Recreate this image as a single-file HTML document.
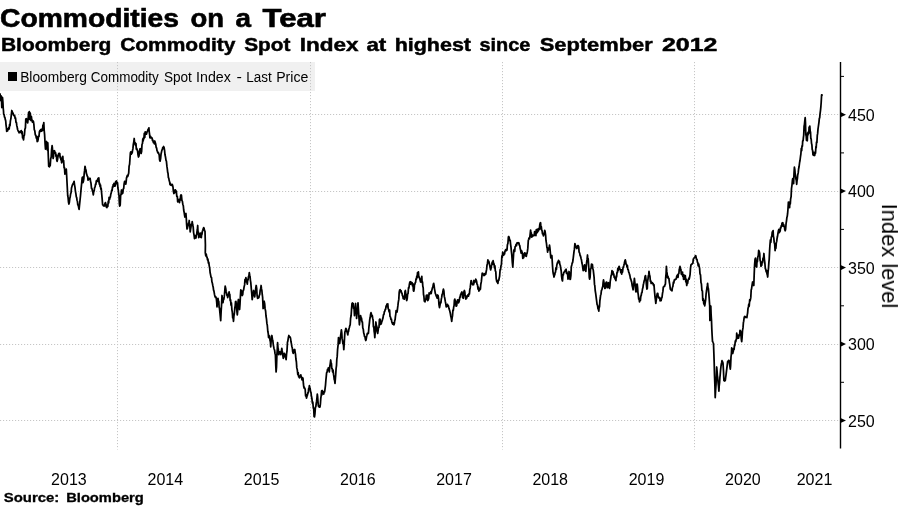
<!DOCTYPE html>
<html><head><meta charset="utf-8"><title>Commodities on a Tear</title>
<style>
html,body{margin:0;padding:0;background:#fff;}
body{width:900px;height:506px;position:relative;overflow:hidden;font-family:"Liberation Sans",sans-serif;color:#000;}
#legend{position:absolute;left:0;top:62px;width:315px;height:28.5px;background:#f0f0f0;}
#sq{position:absolute;left:8px;top:72px;width:9px;height:9px;background:#000;}
.yl{position:absolute;left:848px;font-size:16px;line-height:19px;white-space:pre;}
.xl{position:absolute;top:470px;width:60px;text-align:center;font-size:16px;line-height:19px;white-space:pre;}
#ylab{position:absolute;left:889px;top:256px;font-size:21.9px;line-height:1;white-space:pre;transform:translate(-50%,-50%) rotate(90deg);}
svg{position:absolute;left:0;top:0;}
#wrap{position:absolute;left:0;top:0;width:900px;height:506px;background:#fff;will-change:transform;}
</style></head><body><div id="wrap">
<div id="legend"></div>
<svg width="900" height="506" viewBox="0 0 900 506">
<g stroke="#c6c6c6" stroke-width="1" stroke-dasharray="1.15,1.85" fill="none"><line x1="0" y1="114.5" x2="840.5" y2="114.5"/><line x1="0" y1="191.5" x2="840.5" y2="191.5"/><line x1="0" y1="267.5" x2="840.5" y2="267.5"/><line x1="0" y1="344.5" x2="840.5" y2="344.5"/><line x1="0" y1="420.5" x2="840.5" y2="420.5"/><line x1="117.5" y1="62" x2="117.5" y2="449.5"/><line x1="310.5" y1="62" x2="310.5" y2="449.5"/><line x1="502.5" y1="62" x2="502.5" y2="449.5"/><line x1="694.5" y1="62" x2="694.5" y2="449.5"/></g>
<path d="M0.0,93.3 L0.3,96.7 L0.7,100.5 L1.0,97.8 L1.3,96.0 L1.6,101.6 L1.8,107.5 L2.1,102.2 L2.5,97.5 L2.9,102.0 L3.2,108.0 L3.5,111.0 L3.7,114.3 L4.1,114.7 L4.5,117.2 L4.9,117.3 L5.3,119.6 L5.7,120.7 L6.0,124.6 L6.4,127.7 L6.7,131.4 L7.2,129.0 L7.6,130.8 L8.1,128.7 L8.5,128.5 L8.9,127.3 L9.2,129.0 L9.6,124.5 L10.0,125.7 L10.4,120.9 L10.9,118.6 L11.4,114.0 L11.8,110.5 L12.2,111.6 L12.7,113.4 L13.1,113.1 L13.5,115.0 L13.9,114.8 L14.3,116.0 L14.7,115.7 L15.1,118.4 L15.5,117.9 L16.0,122.3 L16.4,122.4 L16.8,125.7 L17.1,126.7 L17.5,129.1 L17.8,130.0 L18.3,131.2 L18.7,131.8 L19.2,132.8 L19.6,131.7 L20.0,132.2 L20.5,131.1 L20.9,132.1 L21.3,130.7 L21.7,133.6 L22.2,131.8 L22.6,137.9 L23.1,137.5 L23.5,139.9 L24.0,135.6 L24.4,135.3 L24.9,129.2 L25.4,127.9 L25.8,119.1 L26.3,118.6 L26.8,119.5 L27.2,121.6 L27.7,122.8 L28.1,119.1 L28.6,112.5 L29.0,112.8 L29.3,111.6 L29.6,115.6 L29.8,119.5 L30.1,118.0 L30.3,113.2 L30.6,117.7 L30.9,120.5 L31.1,119.1 L31.4,116.5 L31.7,119.3 L32.0,120.7 L32.5,122.2 L32.9,120.9 L33.4,121.4 L33.9,124.6 L34.3,129.7 L34.8,130.8 L35.3,134.9 L35.8,135.2 L36.3,138.2 L36.7,136.7 L37.2,141.6 L37.7,141.3 L38.1,139.6 L38.5,136.1 L39.0,136.5 L39.4,131.7 L39.8,130.7 L40.2,130.2 L40.7,131.4 L41.1,129.3 L41.6,131.2 L42.0,129.2 L42.5,130.5 L42.9,125.2 L43.3,125.6 L43.8,122.6 L44.2,130.6 L44.6,134.7 L45.1,143.9 L45.5,149.2 L45.9,146.8 L46.2,143.9 L46.6,141.5 L47.0,145.3 L47.3,150.0 L47.5,144.5 L47.8,142.8 L48.2,153.7 L48.7,166.3 L49.1,165.3 L49.5,166.8 L49.8,163.3 L50.2,165.6 L50.7,158.8 L51.2,157.0 L51.6,149.9 L52.1,145.7 L52.4,147.9 L52.8,154.9 L53.1,158.5 L53.5,156.8 L53.8,151.4 L54.2,150.7 L54.7,151.2 L55.1,153.2 L55.6,152.8 L56.0,156.5 L56.4,155.2 L56.7,159.8 L57.1,161.3 L57.6,159.2 L58.0,156.1 L58.5,154.2 L58.9,153.4 L59.3,155.6 L59.8,153.5 L60.2,157.8 L60.6,157.0 L60.9,159.9 L61.3,158.4 L61.6,162.8 L62.0,160.6 L62.4,160.5 L62.8,156.4 L63.2,161.9 L63.6,160.5 L64.1,167.9 L64.5,167.7 L64.9,174.1 L65.4,172.3 L65.8,171.0 L66.3,169.2 L66.8,178.2 L67.2,185.7 L67.7,195.5 L68.1,197.6 L68.5,202.1 L68.9,204.0 L69.3,202.6 L69.8,198.3 L70.2,197.0 L70.6,194.0 L71.1,192.5 L71.5,188.0 L72.0,186.2 L72.4,184.9 L72.8,184.4 L73.3,183.1 L73.7,182.8 L74.1,181.3 L74.5,184.6 L75.0,187.3 L75.4,191.1 L75.9,193.8 L76.3,196.9 L76.7,197.7 L77.0,200.2 L77.4,201.2 L77.8,204.9 L78.2,205.0 L78.7,207.7 L79.1,209.4 L79.5,205.2 L80.0,200.4 L80.4,196.7 L80.9,191.1 L81.3,186.9 L81.8,181.9 L82.2,177.7 L82.6,177.1 L83.0,182.6 L83.4,181.3 L83.8,178.6 L84.2,173.6 L84.6,170.4 L85.0,166.3 L85.5,168.7 L86.0,170.2 L86.4,173.4 L86.9,174.9 L87.3,176.2 L87.7,176.6 L88.0,180.1 L88.4,179.1 L88.8,179.2 L89.2,178.3 L89.7,178.7 L90.1,178.4 L90.5,181.1 L91.0,183.3 L91.5,188.3 L91.9,188.4 L92.4,190.9 L92.8,191.9 L93.3,194.8 L93.7,191.8 L94.2,190.6 L94.6,187.7 L95.1,186.9 L95.5,184.1 L95.9,184.3 L96.3,180.8 L96.8,181.5 L97.2,180.0 L97.6,179.9 L98.0,178.4 L98.4,181.7 L98.8,177.9 L99.3,184.2 L99.7,183.4 L100.1,186.6 L100.5,185.0 L100.8,189.2 L101.2,188.4 L101.7,194.0 L102.1,198.1 L102.6,204.7 L103.1,205.0 L103.5,205.8 L104.0,206.1 L104.5,205.7 L104.9,203.6 L105.4,202.6 L105.8,203.8 L106.2,206.8 L106.5,205.2 L106.9,207.6 L107.4,205.0 L107.8,206.3 L108.3,201.2 L108.7,203.0 L109.1,197.4 L109.6,199.2 L110.0,197.5 L110.4,196.9 L110.8,194.1 L111.2,193.2 L111.7,190.2 L112.1,190.6 L112.5,186.9 L112.9,187.1 L113.2,184.7 L113.6,185.0 L114.0,183.4 L114.3,185.6 L114.7,186.2 L115.2,185.8 L115.6,181.9 L116.1,181.3 L116.6,181.0 L117.0,183.8 L117.5,182.7 L117.9,188.0 L118.3,190.2 L118.7,194.0 L119.0,195.4 L119.4,203.9 L119.7,206.1 L120.2,205.1 L120.6,195.9 L121.1,194.0 L121.5,190.0 L121.9,194.0 L122.4,190.7 L122.8,193.1 L123.2,189.1 L123.7,188.5 L124.1,183.8 L124.6,181.3 L125.0,181.6 L125.4,183.6 L125.8,184.1 L126.1,182.1 L126.5,178.1 L126.8,177.0 L127.3,175.4 L127.7,176.6 L128.2,174.9 L128.7,173.1 L129.1,166.1 L129.6,164.2 L130.0,158.2 L130.4,152.8 L130.8,151.8 L131.3,154.2 L131.8,152.6 L132.2,152.8 L132.6,149.9 L132.9,148.9 L133.3,144.5 L133.8,141.8 L134.2,138.5 L134.7,143.9 L135.1,142.7 L135.6,145.6 L136.0,143.7 L136.3,149.2 L136.7,148.3 L137.1,149.9 L137.6,151.1 L138.0,154.7 L138.5,157.0 L139.0,155.8 L139.4,151.6 L139.9,149.1 L140.3,148.6 L140.7,152.1 L141.1,153.4 L141.6,151.6 L142.0,144.5 L142.5,143.4 L142.8,138.9 L143.2,140.8 L143.5,137.8 L143.9,138.6 L144.3,133.4 L144.8,137.5 L145.2,131.9 L145.6,134.2 L146.1,132.4 L146.5,134.1 L147.0,132.1 L147.5,131.0 L147.9,129.8 L148.4,128.9 L148.9,127.8 L149.2,131.7 L149.6,134.3 L149.9,137.8 L150.3,136.0 L150.8,137.8 L151.2,137.3 L151.6,137.8 L152.1,138.0 L152.5,140.5 L152.9,140.1 L153.4,142.7 L153.9,142.1 L154.4,143.8 L154.8,141.0 L155.3,142.7 L155.7,144.1 L156.2,147.7 L156.6,147.8 L157.0,150.6 L157.4,151.3 L157.8,152.8 L158.3,152.5 L158.7,153.4 L159.2,155.0 L159.6,160.0 L160.1,161.2 L160.6,158.7 L161.0,154.3 L161.5,152.0 L161.9,150.1 L162.3,149.9 L162.7,147.7 L163.2,148.3 L163.6,146.5 L164.1,147.7 L164.6,150.7 L165.0,154.8 L165.5,157.0 L166.0,160.4 L166.4,161.2 L166.9,166.2 L167.3,168.8 L167.7,172.4 L168.0,173.1 L168.4,177.6 L168.8,178.3 L169.2,180.6 L169.6,181.7 L170.0,184.7 L170.3,183.2 L170.7,185.0 L171.1,184.8 L171.6,185.4 L172.1,184.4 L172.5,185.0 L173.0,187.1 L173.4,191.3 L173.9,193.5 L174.3,193.0 L174.7,190.1 L175.0,191.6 L175.4,189.9 L175.9,192.7 L176.3,191.2 L176.8,196.3 L177.3,196.4 L177.7,201.9 L178.2,201.3 L178.6,201.3 L179.1,199.3 L179.5,202.7 L179.9,199.2 L180.3,199.9 L180.6,195.8 L181.0,194.9 L181.4,195.2 L181.9,200.3 L182.4,201.3 L182.8,204.2 L183.3,205.7 L183.7,210.0 L184.2,212.7 L184.6,215.3 L184.9,217.0 L185.2,216.5 L185.6,213.8 L185.9,213.4 L186.3,218.5 L186.6,224.1 L187.0,229.0 L187.4,228.4 L187.8,226.2 L188.2,224.8 L188.5,223.1 L188.9,223.1 L189.2,220.5 L189.5,224.7 L189.9,227.0 L190.2,231.9 L190.6,229.2 L190.9,227.7 L191.3,224.1 L191.8,225.3 L192.2,221.6 L192.7,224.8 L193.2,227.1 L193.6,232.6 L194.1,235.4 L194.5,238.6 L194.8,235.5 L195.2,237.0 L195.6,236.9 L196.0,238.0 L196.3,235.0 L196.7,234.7 L197.0,231.6 L197.4,229.2 L197.7,225.5 L198.0,232.4 L198.4,232.0 L198.7,237.6 L199.2,235.6 L199.6,236.0 L200.1,233.3 L200.5,237.1 L200.9,233.2 L201.3,237.6 L201.7,233.6 L202.0,234.2 L202.4,231.2 L202.8,230.3 L203.3,228.6 L203.7,227.6 L204.1,228.4 L204.6,230.9 L205.0,231.2 L205.4,244.7 L205.3,252.8 L205.8,255.8 L206.2,254.0 L206.7,257.1 L207.1,257.1 L207.5,260.0 L207.9,259.0 L208.4,263.1 L208.8,262.3 L209.2,265.6 L209.7,268.1 L210.1,272.5 L210.6,274.9 L211.0,277.2 L211.5,277.5 L211.9,281.8 L212.4,283.3 L212.8,285.5 L213.2,287.2 L213.6,290.3 L214.1,291.8 L214.5,294.4 L214.9,296.2 L215.4,297.3 L215.8,296.9 L216.3,298.3 L216.7,302.2 L217.0,306.9 L217.3,303.3 L217.7,302.9 L218.0,298.3 L218.4,300.9 L218.8,301.5 L219.1,307.1 L219.5,308.3 L219.9,312.4 L220.3,316.3 L220.7,320.6 L221.1,311.9 L221.6,303.9 L222.0,295.5 L222.3,298.1 L222.7,300.0 L223.0,302.6 L223.4,299.1 L223.8,299.3 L224.2,296.9 L224.5,294.4 L224.9,289.3 L225.2,286.2 L225.7,288.4 L226.1,291.4 L226.6,293.3 L227.0,295.5 L227.3,294.6 L227.7,297.6 L228.2,295.7 L228.6,294.5 L229.1,291.9 L229.5,294.8 L229.8,294.4 L230.2,300.8 L230.6,299.7 L231.0,305.1 L231.4,302.9 L231.9,309.8 L232.3,312.0 L232.7,317.9 L233.1,316.7 L233.5,321.3 L233.9,316.0 L234.4,313.2 L234.8,308.0 L235.2,306.0 L235.5,301.7 L235.9,301.4 L236.4,305.0 L236.8,310.4 L237.3,314.9 L237.7,310.6 L238.0,302.4 L238.4,299.5 L238.8,301.5 L239.2,307.5 L239.6,309.5 L240.0,304.3 L240.4,296.2 L240.8,289.8 L241.3,290.9 L241.7,293.9 L242.2,295.5 L242.7,294.6 L243.1,290.5 L243.6,290.1 L244.1,286.9 L244.6,284.9 L245.0,279.3 L245.4,282.0 L245.9,277.7 L246.4,280.1 L246.8,281.8 L247.3,284.1 L247.7,279.5 L248.1,279.9 L248.5,276.5 L248.9,275.9 L249.3,272.7 L249.7,275.2 L250.1,276.8 L250.4,280.3 L250.8,282.7 L251.3,288.7 L251.7,293.0 L252.2,299.7 L252.7,295.8 L253.1,293.6 L253.6,290.5 L254.0,293.8 L254.3,294.0 L254.7,296.9 L255.1,293.7 L255.4,291.3 L255.8,287.9 L256.2,285.5 L256.7,288.7 L257.1,295.7 L257.6,298.3 L258.0,298.2 L258.4,296.9 L258.9,297.6 L259.3,295.1 L259.7,294.8 L260.2,290.2 L260.6,289.1 L261.1,285.5 L261.5,288.9 L261.9,290.7 L262.2,294.2 L262.6,297.0 L262.9,303.0 L263.1,308.5 L263.5,307.7 L263.8,301.7 L264.2,301.3 L264.7,304.0 L265.1,308.9 L265.6,311.0 L266.0,316.0 L266.5,319.1 L266.9,323.4 L267.3,325.2 L267.8,331.3 L268.2,333.2 L268.6,337.7 L269.0,335.3 L269.3,336.8 L269.7,336.3 L270.0,340.5 L270.4,341.6 L270.7,346.9 L271.1,341.3 L271.5,340.3 L271.9,335.5 L272.4,339.2 L272.8,340.4 L273.3,344.8 L273.7,346.8 L274.1,349.0 L274.6,350.2 L275.0,353.4 L275.4,354.7 L275.8,366.0 L276.1,372.0 L276.5,367.2 L276.9,354.6 L277.2,351.1 L277.6,342.7 L278.0,348.4 L278.3,349.0 L278.7,354.7 L279.0,353.7 L279.4,352.8 L279.7,351.9 L280.1,353.2 L280.4,352.6 L280.8,354.7 L281.1,351.6 L281.5,350.5 L281.8,348.3 L282.2,351.0 L282.6,353.0 L282.9,355.9 L283.3,358.3 L283.6,357.7 L284.0,354.0 L284.3,353.3 L284.8,354.4 L285.2,356.6 L285.7,357.2 L286.1,359.7 L286.6,353.6 L287.0,350.8 L287.5,341.9 L287.8,341.4 L288.2,338.6 L288.5,337.0 L288.9,335.5 L289.3,337.2 L289.7,336.8 L290.1,337.0 L290.5,338.0 L291.0,341.8 L291.4,343.6 L291.8,346.2 L292.3,348.0 L292.7,351.7 L293.2,353.3 L293.6,352.4 L294.0,349.8 L294.4,350.7 L294.8,349.5 L295.2,352.8 L295.5,354.1 L295.9,359.0 L296.4,362.0 L296.8,367.9 L297.3,369.9 L297.8,374.6 L298.2,372.6 L298.7,376.8 L299.1,377.0 L299.5,377.8 L300.0,375.8 L300.4,376.0 L300.8,374.9 L301.2,376.6 L301.6,377.9 L302.0,379.9 L302.4,378.5 L302.7,377.7 L303.0,378.6 L303.4,383.7 L303.7,386.3 L304.1,388.1 L304.4,387.6 L304.8,388.4 L305.2,389.5 L305.6,396.0 L306.1,394.8 L306.5,398.1 L307.0,396.1 L307.4,395.1 L307.9,392.7 L308.3,392.8 L308.6,388.9 L309.0,388.4 L309.4,385.6 L309.8,388.5 L310.1,388.2 L310.5,391.3 L311.0,392.6 L311.4,396.3 L311.9,398.4 L312.4,403.1 L312.8,402.0 L313.3,408.3 L313.7,408.2 L314.1,416.6 L314.5,416.9 L314.9,414.2 L315.4,407.2 L315.8,406.9 L316.2,403.6 L316.6,401.2 L317.0,397.6 L317.3,394.1 L317.6,396.4 L318.0,401.7 L318.3,405.5 L318.7,406.7 L319.1,405.9 L319.6,407.1 L320.0,406.9 L320.4,404.0 L320.8,398.3 L321.2,395.5 L321.6,391.0 L321.9,394.9 L322.3,390.5 L322.8,391.7 L323.2,392.4 L323.7,394.1 L324.2,391.7 L324.6,392.0 L325.1,388.4 L325.5,385.1 L325.9,380.0 L326.2,377.1 L326.6,372.8 L327.0,372.3 L327.5,369.5 L327.9,370.5 L328.3,367.8 L328.6,369.2 L329.0,369.3 L329.3,372.0 L329.8,366.1 L330.2,364.1 L330.7,360.0 L331.1,363.3 L331.4,363.3 L331.8,368.5 L332.2,368.6 L332.6,372.0 L333.1,370.1 L333.5,374.2 L333.9,376.5 L334.2,379.5 L334.6,380.5 L335.0,383.4 L335.4,378.4 L335.7,374.8 L336.1,368.5 L336.5,365.7 L336.8,359.5 L337.2,356.4 L337.6,349.3 L338.1,344.9 L338.5,337.6 L338.9,340.6 L339.3,340.6 L339.7,343.3 L340.1,339.6 L340.5,336.6 L341.0,333.0 L341.4,329.8 L341.8,333.2 L342.1,338.4 L342.5,340.5 L342.9,343.6 L343.4,343.6 L343.8,349.7 L344.2,343.6 L344.5,338.5 L344.9,331.9 L345.2,331.3 L345.6,329.3 L345.9,328.4 L346.4,329.2 L346.9,331.7 L347.3,332.8 L347.8,334.8 L348.2,331.4 L348.5,331.7 L348.9,329.1 L349.3,327.8 L349.8,325.6 L350.2,324.8 L350.6,318.2 L351.1,315.8 L351.6,308.2 L352.0,303.5 L352.4,303.0 L352.8,304.4 L353.2,303.5 L353.6,308.5 L354.1,308.6 L354.5,315.6 L354.9,310.2 L355.2,307.6 L355.6,303.5 L355.9,311.5 L356.3,310.4 L356.6,318.4 L357.1,311.9 L357.5,308.4 L358.0,302.8 L358.5,310.5 L358.9,316.4 L359.4,324.8 L359.8,321.1 L360.2,319.6 L360.6,315.6 L361.1,317.9 L361.5,318.0 L362.0,322.0 L362.4,321.9 L362.8,328.0 L363.3,329.3 L363.7,333.0 L364.1,334.1 L364.5,336.4 L365.0,336.9 L365.4,339.4 L365.8,340.5 L366.2,339.2 L366.6,336.4 L366.9,335.4 L367.3,333.4 L367.7,333.8 L368.0,333.3 L368.4,333.4 L368.9,327.2 L369.3,323.9 L369.8,319.1 L370.2,317.5 L370.6,314.2 L371.0,312.7 L371.4,314.0 L371.9,316.7 L372.3,315.6 L372.7,318.4 L373.1,320.0 L373.4,326.7 L373.8,326.3 L374.1,331.0 L374.5,333.6 L374.8,337.6 L375.2,332.1 L375.5,329.9 L375.9,322.0 L376.3,325.4 L376.8,326.2 L377.2,331.7 L377.7,333.4 L378.1,330.6 L378.5,327.7 L379.0,327.5 L379.4,319.7 L379.8,319.1 L380.2,319.7 L380.5,324.5 L380.9,324.1 L381.3,323.6 L381.8,321.5 L382.2,320.8 L382.6,319.1 L383.0,317.9 L383.5,314.6 L383.9,314.6 L384.4,311.5 L384.8,311.3 L385.2,309.4 L385.6,309.3 L386.1,305.9 L386.5,306.7 L386.9,304.2 L387.3,306.0 L387.8,303.9 L388.2,308.7 L388.6,309.2 L389.1,311.8 L389.6,310.1 L390.0,316.5 L390.5,317.0 L390.9,319.3 L391.4,319.1 L391.8,322.0 L392.2,322.7 L392.6,324.0 L393.1,322.8 L393.6,324.5 L394.0,324.8 L394.4,323.3 L394.7,320.5 L395.1,319.8 L395.4,316.6 L395.8,314.1 L396.1,310.6 L396.4,311.4 L396.8,311.4 L397.1,312.0 L397.5,308.6 L397.9,305.7 L398.3,302.1 L398.8,299.4 L399.2,292.3 L399.7,290.0 L400.2,289.7 L400.6,291.7 L401.1,290.7 L401.5,293.0 L402.0,293.1 L402.4,295.5 L402.8,295.7 L403.2,298.6 L403.6,296.9 L403.9,298.4 L404.3,299.2 L404.7,296.6 L405.0,291.4 L405.4,290.5 L405.8,293.8 L406.3,298.1 L406.7,300.5 L407.2,298.7 L407.6,294.2 L408.1,293.4 L408.5,287.7 L408.9,288.1 L409.3,285.0 L409.7,282.7 L410.2,281.7 L410.7,284.2 L411.1,282.2 L411.6,283.7 L412.1,282.7 L412.5,285.8 L413.0,283.9 L413.4,290.5 L413.8,291.2 L414.2,288.9 L414.5,284.6 L414.9,284.1 L415.3,282.5 L415.6,282.3 L416.0,278.8 L416.4,279.1 L416.8,276.2 L417.1,277.8 L417.5,272.7 L417.9,275.1 L418.4,271.9 L418.8,277.1 L419.2,277.0 L419.7,278.7 L420.1,280.1 L420.6,282.0 L421.0,278.9 L421.4,279.7 L421.8,276.3 L422.1,282.6 L422.5,281.9 L422.8,286.3 L423.2,287.8 L423.5,294.3 L423.9,296.2 L424.3,301.1 L424.6,299.5 L425.0,301.9 L425.4,299.2 L425.9,299.6 L426.3,295.5 L426.8,297.2 L427.2,295.0 L427.7,300.7 L428.2,299.8 L428.7,298.3 L429.1,293.0 L429.6,294.1 L430.0,292.9 L430.4,293.2 L430.8,291.6 L431.2,293.5 L431.6,291.2 L432.0,289.6 L432.4,287.9 L432.9,286.9 L433.3,284.4 L433.7,283.4 L434.1,285.5 L434.5,288.8 L434.9,290.9 L435.3,293.4 L435.8,294.5 L436.2,295.9 L436.7,296.9 L437.2,298.2 L437.6,295.0 L438.1,295.5 L438.6,299.2 L439.0,304.9 L439.5,307.6 L439.9,305.6 L440.4,302.1 L440.9,302.8 L441.3,299.1 L441.7,297.4 L442.1,294.4 L442.6,293.9 L443.0,290.9 L443.4,289.1 L443.9,291.0 L444.3,296.4 L444.8,298.3 L445.3,301.4 L445.7,303.3 L446.2,306.9 L446.6,306.4 L447.0,306.3 L447.5,304.4 L447.9,305.5 L448.4,305.8 L448.9,308.3 L449.3,309.4 L449.8,311.1 L450.3,313.2 L450.8,316.3 L451.2,317.8 L451.7,321.3 L452.1,317.9 L452.5,315.9 L452.9,310.1 L453.3,310.4 L453.7,307.0 L454.1,305.6 L454.4,300.2 L454.8,299.1 L455.3,301.1 L455.7,304.0 L456.2,306.2 L456.7,305.6 L457.1,301.6 L457.6,299.8 L458.1,299.8 L458.5,302.8 L459.0,301.9 L459.4,300.2 L459.8,297.1 L460.1,297.3 L460.5,294.8 L461.0,294.1 L461.4,292.8 L461.9,291.9 L462.3,293.6 L462.6,297.8 L463.0,297.6 L463.5,298.2 L463.9,291.8 L464.4,290.5 L464.8,291.9 L465.1,295.5 L465.5,295.5 L465.9,299.1 L466.3,297.7 L466.8,297.9 L467.2,296.1 L467.6,295.5 L468.1,294.7 L468.5,296.2 L468.9,293.8 L469.4,294.1 L469.8,289.4 L470.2,287.9 L470.7,283.5 L471.1,280.6 L471.5,281.1 L472.0,283.8 L472.4,283.6 L472.8,284.8 L473.2,283.6 L473.6,284.7 L473.9,280.5 L474.3,282.7 L474.8,282.0 L475.2,281.7 L475.7,279.2 L476.1,279.9 L476.6,281.3 L477.0,284.2 L477.5,284.8 L478.0,289.2 L478.4,287.1 L478.9,291.2 L479.3,288.5 L479.6,290.2 L480.0,289.2 L480.4,289.1 L480.8,284.2 L481.3,281.9 L481.8,277.1 L482.2,273.4 L482.6,273.2 L483.0,274.6 L483.5,274.3 L483.9,275.6 L484.3,274.0 L484.8,275.0 L485.2,273.4 L485.7,274.3 L486.1,272.0 L486.6,269.4 L487.0,265.2 L487.4,263.7 L487.9,259.9 L488.4,262.0 L488.8,261.2 L489.3,263.5 L489.7,265.3 L490.2,267.8 L490.6,269.9 L491.0,268.5 L491.4,266.0 L491.8,264.7 L492.2,262.1 L492.7,264.2 L493.1,260.7 L493.6,263.5 L494.0,263.7 L494.5,267.9 L494.9,265.8 L495.3,270.6 L495.8,271.8 L496.2,278.6 L496.7,281.3 L497.1,282.0 L497.5,282.3 L497.9,283.4 L498.3,280.2 L498.8,280.3 L499.2,278.0 L499.6,276.3 L500.1,269.7 L500.5,269.8 L501.0,265.6 L501.4,264.9 L501.9,255.9 L502.3,257.3 L502.7,252.1 L503.1,253.3 L503.4,253.5 L503.8,255.0 L504.2,253.6 L504.6,253.8 L504.9,251.6 L505.3,250.7 L505.7,249.6 L506.1,250.8 L506.6,249.4 L507.0,250.0 L507.4,244.8 L507.9,243.5 L508.4,236.9 L508.8,236.5 L509.2,237.7 L509.7,240.7 L510.2,240.3 L510.6,244.3 L511.0,247.1 L511.4,251.6 L511.8,255.0 L512.3,262.1 L512.8,267.1 L513.1,262.3 L513.5,255.4 L513.8,250.7 L514.2,249.5 L514.7,251.3 L515.1,246.7 L515.6,246.4 L516.1,244.3 L516.5,245.6 L517.0,242.9 L517.5,243.0 L518.0,242.6 L518.4,243.5 L518.9,242.9 L519.3,245.0 L519.8,245.8 L520.2,248.6 L520.6,250.0 L521.1,253.1 L521.5,250.6 L522.0,252.1 L522.4,253.6 L522.8,258.4 L523.2,257.8 L523.7,257.7 L524.1,253.9 L524.6,252.8 L525.0,253.2 L525.5,255.8 L525.9,253.5 L526.3,256.4 L526.7,253.8 L527.0,253.6 L527.4,251.4 L527.8,248.4 L528.3,240.5 L528.7,239.3 L529.1,237.8 L529.5,238.8 L529.9,236.5 L530.2,233.9 L530.6,230.1 L530.9,233.2 L531.3,232.8 L531.6,237.2 L532.0,234.6 L532.4,236.7 L532.9,235.5 L533.3,235.6 L533.7,235.1 L534.2,235.5 L534.6,231.7 L535.0,234.1 L535.5,233.6 L535.9,235.6 L536.2,229.8 L536.6,233.4 L537.0,229.4 L537.5,232.2 L537.9,229.2 L538.4,230.8 L538.9,228.5 L539.3,229.5 L539.8,224.7 L540.2,223.0 L540.6,222.7 L541.0,229.1 L541.3,226.5 L541.7,230.1 L542.1,230.8 L542.5,233.8 L543.0,233.5 L543.4,235.8 L543.8,234.2 L544.2,234.3 L544.7,230.4 L545.1,231.5 L545.6,235.1 L546.0,240.7 L546.5,243.6 L546.9,247.5 L547.2,248.0 L547.6,252.1 L548.0,248.0 L548.4,250.0 L548.8,248.6 L549.1,248.6 L549.5,245.1 L549.8,247.2 L550.1,249.9 L550.5,254.6 L550.8,257.8 L551.2,257.1 L551.5,255.6 L551.9,255.7 L552.2,260.5 L552.6,267.1 L552.9,271.3 L553.3,273.8 L553.6,274.9 L554.0,277.0 L554.4,275.3 L554.8,274.7 L555.1,272.6 L555.5,272.1 L555.9,267.8 L556.4,269.3 L556.8,265.2 L557.2,263.5 L557.7,262.0 L558.1,262.8 L558.5,260.3 L559.0,261.4 L559.4,261.3 L559.9,264.8 L560.3,265.3 L560.7,267.8 L561.2,271.0 L561.6,276.4 L562.1,279.9 L562.5,280.9 L562.9,274.7 L563.3,275.0 L563.7,272.8 L564.1,272.2 L564.5,271.3 L564.9,271.4 L565.3,270.0 L565.7,269.9 L566.1,269.2 L566.5,273.3 L566.9,272.1 L567.3,274.2 L567.6,274.0 L568.0,279.1 L568.3,277.7 L568.6,277.5 L569.0,271.5 L569.3,272.8 L569.7,273.4 L570.0,279.4 L570.4,279.2 L570.9,275.3 L571.3,266.7 L571.8,264.9 L572.2,263.0 L572.6,262.7 L573.0,260.0 L573.5,255.9 L574.0,251.7 L574.4,249.2 L574.9,243.6 L575.4,245.3 L575.8,246.0 L576.3,247.7 L576.8,248.6 L577.3,247.7 L577.7,245.6 L578.2,245.7 L578.7,246.8 L579.1,252.1 L579.6,252.9 L580.1,255.7 L580.5,256.0 L581.0,258.3 L581.5,260.0 L581.9,263.0 L582.4,264.9 L582.8,268.2 L583.2,270.6 L583.7,270.2 L584.1,266.5 L584.6,264.9 L585.0,267.0 L585.4,269.9 L585.8,271.3 L586.2,267.2 L586.6,262.7 L587.1,259.2 L587.5,255.0 L587.9,261.3 L588.2,258.7 L588.6,265.0 L588.9,269.4 L589.3,277.5 L589.6,279.2 L590.1,277.2 L590.5,269.1 L591.0,268.5 L591.5,264.2 L591.9,266.0 L592.4,264.5 L592.8,268.2 L593.3,270.4 L593.7,273.8 L594.1,277.4 L594.5,284.4 L594.8,285.5 L595.2,290.5 L595.7,293.7 L596.2,297.6 L596.6,300.6 L597.1,304.7 L597.5,305.1 L598.0,308.8 L598.4,309.1 L598.8,311.1 L599.2,306.3 L599.5,307.0 L599.9,300.5 L600.3,298.0 L600.6,295.2 L601.0,294.2 L601.4,290.5 L601.9,289.8 L602.3,287.7 L602.8,286.3 L603.1,282.6 L603.5,279.9 L604.0,282.6 L604.4,286.6 L604.9,288.4 L605.4,288.1 L605.8,283.3 L606.3,282.0 L606.7,282.0 L607.1,286.6 L607.5,287.7 L607.8,287.5 L608.2,283.5 L608.5,282.7 L608.8,283.8 L609.2,287.1 L609.5,288.4 L609.9,285.9 L610.2,281.4 L610.6,279.1 L611.1,275.5 L611.5,274.9 L612.0,270.6 L612.5,272.8 L612.9,271.5 L613.4,274.9 L613.8,274.0 L614.2,277.4 L614.6,277.1 L615.1,278.9 L615.5,278.9 L615.9,280.6 L616.3,275.8 L616.6,276.8 L617.0,272.3 L617.4,272.7 L617.8,268.5 L618.2,270.7 L618.7,267.5 L619.1,266.3 L619.5,267.6 L620.0,269.5 L620.4,269.7 L620.8,272.7 L621.3,269.9 L621.7,274.2 L622.1,269.6 L622.5,272.2 L623.0,267.8 L623.4,267.0 L623.9,265.2 L624.3,263.5 L624.8,261.1 L625.3,259.9 L625.7,261.5 L626.1,264.4 L626.6,264.4 L627.0,267.0 L627.4,265.5 L627.8,269.5 L628.3,269.8 L628.7,272.2 L629.1,272.7 L629.5,274.4 L629.9,275.6 L630.4,278.7 L630.8,279.0 L631.2,280.6 L631.7,282.1 L632.2,285.8 L632.6,287.3 L633.1,289.8 L633.5,285.0 L634.0,282.6 L634.4,278.4 L634.8,282.1 L635.1,284.5 L635.5,289.2 L635.9,291.9 L636.3,291.4 L636.8,284.3 L637.2,284.1 L637.6,287.6 L637.9,292.3 L638.3,294.8 L638.7,299.1 L639.1,298.2 L639.5,301.9 L639.9,298.7 L640.4,300.4 L640.8,296.2 L641.2,295.5 L641.6,292.9 L642.0,292.7 L642.5,289.0 L642.9,287.8 L643.3,284.8 L643.7,283.2 L644.2,280.6 L644.6,279.9 L645.1,276.3 L645.5,275.6 L646.0,279.6 L646.4,284.6 L646.9,289.1 L647.3,288.4 L647.6,281.0 L648.0,279.1 L648.3,276.0 L648.7,274.7 L649.0,271.3 L649.5,275.2 L649.9,275.9 L650.4,281.3 L650.8,280.9 L651.1,283.5 L651.5,282.2 L651.9,282.7 L652.3,282.6 L652.7,283.7 L653.2,283.6 L653.6,285.6 L654.0,284.8 L654.4,290.1 L654.7,293.3 L655.1,297.6 L655.5,300.3 L655.8,303.3 L656.2,300.4 L656.5,298.6 L656.9,295.3 L657.3,293.4 L657.8,293.4 L658.2,296.6 L658.7,297.6 L659.2,298.4 L659.7,297.5 L660.1,300.9 L660.6,299.9 L661.1,300.5 L661.6,298.1 L662.0,297.5 L662.5,293.4 L662.9,291.4 L663.3,287.1 L663.7,287.0 L664.1,286.1 L664.5,286.4 L665.0,284.8 L665.4,284.1 L665.7,277.7 L666.1,273.7 L666.4,266.3 L666.8,271.9 L667.1,273.1 L667.5,277.7 L668.0,276.3 L668.4,278.3 L668.9,278.4 L669.4,282.6 L669.8,284.7 L670.3,289.1 L670.7,289.2 L671.1,290.3 L671.5,290.5 L672.0,290.8 L672.4,287.5 L672.9,286.3 L673.4,282.1 L673.8,283.0 L674.3,279.9 L674.7,279.9 L675.1,279.3 L675.6,279.5 L676.0,279.1 L676.4,278.1 L676.8,276.0 L677.1,276.1 L677.5,274.9 L678.0,277.4 L678.4,273.9 L678.9,273.4 L679.3,269.0 L679.6,270.2 L680.0,266.3 L680.4,269.1 L680.9,269.2 L681.3,274.1 L681.7,272.7 L682.1,274.8 L682.5,272.1 L682.8,276.4 L683.2,274.9 L683.6,279.3 L683.9,274.9 L684.3,279.1 L684.6,277.2 L685.0,278.0 L685.3,275.6 L685.8,281.9 L686.2,279.2 L686.7,285.5 L687.2,282.3 L687.6,283.4 L688.1,279.9 L688.5,279.6 L688.9,278.1 L689.2,279.2 L689.6,277.0 L690.1,274.3 L690.5,268.2 L691.0,264.9 L691.5,264.3 L691.9,264.1 L692.4,263.5 L692.9,263.2 L693.3,259.1 L693.8,258.5 L694.3,257.6 L694.8,257.5 L695.2,256.2 L695.7,255.7 L696.1,257.3 L696.5,259.3 L697.0,259.4 L697.4,262.1 L697.8,262.6 L698.2,265.8 L698.7,264.0 L699.1,266.3 L699.6,268.4 L700.0,273.8 L700.5,274.9 L701.0,282.7 L701.4,283.7 L701.9,290.5 L702.4,290.9 L702.8,300.2 L703.3,298.9 L703.8,304.0 L704.3,300.5 L704.7,305.9 L705.2,302.6 L705.7,299.3 L706.1,293.9 L706.6,290.5 L706.9,288.0 L707.3,285.9 L707.6,283.4 L708.0,287.6 L708.4,288.8 L708.8,293.4 L709.2,298.5 L709.7,306.0 L709.9,320.4 L710.3,314.7 L710.8,306.0 L711.1,314.3 L711.5,320.6 L711.8,328.9 L712.1,334.7 L712.5,341.4 L712.8,341.8 L713.2,342.8 L713.5,343.5 L713.9,354.2 L714.2,363.4 L714.5,375.3 L714.9,385.2 L715.2,397.6 L715.6,390.5 L716.0,384.8 L716.4,375.8 L716.7,367.0 L717.0,370.3 L717.4,375.5 L717.7,377.7 L718.1,382.7 L718.5,386.2 L718.9,391.2 L719.2,385.8 L719.6,382.4 L719.9,377.7 L720.2,374.7 L720.6,369.8 L720.9,367.0 L721.3,364.2 L721.6,362.9 L722.0,360.6 L722.3,362.7 L722.7,362.0 L723.0,363.4 L723.5,371.3 L723.9,380.5 L724.4,379.6 L724.8,381.0 L725.3,380.5 L725.6,378.0 L726.0,375.1 L726.3,372.7 L726.8,368.7 L727.2,365.3 L727.7,361.3 L728.2,361.5 L728.6,360.4 L729.1,360.6 L729.5,363.4 L729.9,366.4 L730.3,369.1 L730.6,365.9 L731.0,357.0 L731.4,353.8 L731.7,347.8 L732.0,349.7 L732.4,349.1 L732.7,353.5 L733.1,351.7 L733.4,350.9 L733.8,348.5 L734.1,349.3 L734.5,344.9 L734.8,345.7 L735.3,341.0 L735.7,341.7 L736.2,339.3 L736.5,339.2 L736.7,333.2 L737.0,335.1 L737.4,335.1 L737.7,338.1 L738.2,336.1 L738.6,338.2 L739.1,334.6 L739.6,335.5 L740.0,330.4 L740.5,331.0 L740.9,332.7 L741.3,339.2 L741.7,341.7 L742.1,337.4 L742.5,330.7 L743.0,327.9 L743.4,322.5 L743.7,321.2 L744.1,318.0 L744.4,316.8 L744.8,316.4 L745.2,317.3 L745.6,316.9 L746.1,317.4 L746.5,317.3 L746.9,317.5 L747.3,314.6 L747.6,313.1 L748.0,308.4 L748.4,306.9 L748.8,304.1 L749.2,306.3 L749.7,299.7 L750.1,300.8 L750.5,299.0 L750.8,297.4 L751.2,289.8 L751.5,289.1 L751.9,286.3 L752.2,284.4 L752.6,282.0 L753.0,284.9 L753.4,283.7 L753.8,285.5 L754.2,274.1 L754.6,264.9 L755.0,259.7 L755.3,258.5 L755.6,258.1 L756.0,265.6 L756.3,266.3 L756.7,267.0 L757.0,260.4 L757.4,261.7 L757.8,257.1 L758.3,255.6 L758.7,250.4 L759.2,251.4 L759.7,253.5 L760.1,260.5 L760.5,261.4 L761.0,266.3 L761.4,264.3 L761.8,265.3 L762.1,261.8 L762.5,262.8 L763.0,258.2 L763.4,259.6 L763.9,253.5 L764.4,259.3 L764.8,262.3 L765.3,268.5 L765.7,269.2 L766.2,271.8 L766.6,270.6 L767.0,273.9 L767.3,274.7 L767.7,277.0 L768.1,271.5 L768.5,268.1 L768.9,262.1 L769.2,259.3 L769.6,250.7 L769.9,245.7 L770.4,239.9 L770.8,242.5 L771.3,237.2 L771.8,236.7 L772.2,232.3 L772.7,231.5 L773.1,230.6 L773.4,236.2 L773.8,237.9 L774.2,242.4 L774.7,244.1 L775.1,250.7 L775.5,247.6 L775.9,248.3 L776.3,242.8 L776.7,241.4 L777.1,238.2 L777.5,236.3 L778.0,233.2 L778.4,230.8 L778.9,229.3 L779.3,232.6 L779.8,231.5 L780.2,230.9 L780.5,227.6 L780.9,227.9 L781.3,225.6 L781.6,226.5 L782.0,223.0 L782.4,222.9 L782.8,222.7 L783.2,226.1 L783.7,224.6 L784.1,226.5 L784.5,227.2 L784.8,229.8 L785.2,230.8 L785.6,229.2 L786.1,223.3 L786.5,220.8 L786.9,217.3 L787.2,216.7 L787.6,213.7 L788.0,208.8 L788.4,202.1 L788.8,207.0 L789.2,205.3 L789.6,207.7 L789.9,201.9 L790.3,203.9 L790.6,199.2 L791.1,196.7 L791.5,188.5 L792.0,185.0 L792.4,180.5 L792.7,178.6 L793.2,180.3 L793.6,183.6 L794.0,173.7 L794.4,167.2 L794.8,169.3 L795.2,174.0 L795.6,176.4 L796.0,179.3 L796.3,180.2 L796.7,184.3 L797.0,180.8 L797.4,178.6 L797.7,175.0 L798.2,172.9 L798.6,169.0 L799.1,166.5 L799.6,162.5 L800.0,160.5 L800.5,156.5 L800.9,153.8 L801.3,148.3 L801.7,150.6 L802.0,145.9 L802.4,146.2 L802.7,140.8 L803.1,140.8 L803.4,137.6 L803.7,135.3 L804.1,126.1 L804.4,124.8 L804.8,120.9 L805.2,117.7 L805.5,123.4 L805.8,134.8 L806.2,135.7 L806.5,140.4 L806.9,139.8 L807.3,140.8 L807.6,133.0 L808.0,135.0 L808.4,131.9 L808.8,133.3 L809.1,127.1 L809.5,127.7 L809.8,126.1 L810.2,131.4 L810.5,131.9 L810.8,138.1 L811.2,139.3 L811.5,143.3 L811.9,144.9 L812.2,149.4 L812.6,150.4 L813.0,154.8 L813.4,152.0 L813.8,155.4 L814.3,153.6 L814.7,155.5 L815.2,151.9 L815.5,153.3 L815.9,146.7 L816.2,147.6 L816.5,142.1 L816.9,142.6 L817.3,135.2 L817.6,133.9 L818.0,129.1 L818.3,127.0 L818.7,124.2 L819.0,122.0 L819.3,118.6 L819.7,117.6 L820.0,114.2 L820.5,110.3 L820.9,106.3 L821.2,102.2 L821.6,95.0 L821.9,95.6 L822.2,94.2" fill="none" stroke="#000" stroke-width="1.75" stroke-linejoin="round" stroke-linecap="butt"/>
<line x1="840.5" y1="62" x2="840.5" y2="448.5" stroke="#000" stroke-width="1.4"/>
<g stroke="#000" stroke-width="1"><line x1="840.5" y1="76.4" x2="844.0" y2="76.4"/><line x1="840.5" y1="152.9" x2="844.0" y2="152.9"/><line x1="840.5" y1="229.4" x2="844.0" y2="229.4"/><line x1="840.5" y1="305.8" x2="844.0" y2="305.8"/><line x1="840.5" y1="382.3" x2="844.0" y2="382.3"/></g>
<g fill="#000"><path d="M840.5,112.10000000000001 L846.0,114.7 L840.5,117.3 Z"/><path d="M840.5,188.5 L846.0,191.1 L840.5,193.7 Z"/><path d="M840.5,265.0 L846.0,267.6 L840.5,270.20000000000005 Z"/><path d="M840.5,341.5 L846.0,344.1 L840.5,346.70000000000005 Z"/><path d="M840.5,417.9 L846.0,420.5 L840.5,423.1 Z"/></g>
<g fill="#000" font-family="Liberation Sans, sans-serif"><text x="0.1" y="27" font-size="25" font-weight="bold" textLength="178.9" lengthAdjust="spacingAndGlyphs" stroke="#000" stroke-width="0.6">Commodities</text><text x="190.5" y="27" font-size="25" font-weight="bold" textLength="33.5" lengthAdjust="spacingAndGlyphs" stroke="#000" stroke-width="0.6">on</text><text x="235.5" y="27" font-size="25" font-weight="bold" textLength="15.5" lengthAdjust="spacingAndGlyphs" stroke="#000" stroke-width="0.6">a</text><text x="262.5" y="27" font-size="25" font-weight="bold" textLength="63.5" lengthAdjust="spacingAndGlyphs" stroke="#000" stroke-width="0.6">Tear</text><text x="1.0" y="50.8" font-size="18.2" font-weight="bold" textLength="110.4" lengthAdjust="spacingAndGlyphs" stroke="#000" stroke-width="0.45">Bloomberg</text><text x="120.2" y="50.8" font-size="18.2" font-weight="bold" textLength="115.2" lengthAdjust="spacingAndGlyphs" stroke="#000" stroke-width="0.45">Commodity</text><text x="244.2" y="50.8" font-size="18.2" font-weight="bold" textLength="46.2" lengthAdjust="spacingAndGlyphs" stroke="#000" stroke-width="0.45">Spot</text><text x="299.7" y="50.8" font-size="18.2" font-weight="bold" textLength="58.8" lengthAdjust="spacingAndGlyphs" stroke="#000" stroke-width="0.45">Index</text><text x="366.4" y="50.8" font-size="18.2" font-weight="bold" textLength="19.9" lengthAdjust="spacingAndGlyphs" stroke="#000" stroke-width="0.45">at</text><text x="394.7" y="50.8" font-size="18.2" font-weight="bold" textLength="76.3" lengthAdjust="spacingAndGlyphs" stroke="#000" stroke-width="0.45">highest</text><text x="479.5" y="50.8" font-size="18.2" font-weight="bold" textLength="50.9" lengthAdjust="spacingAndGlyphs" stroke="#000" stroke-width="0.45">since</text><text x="539.7" y="50.8" font-size="18.2" font-weight="bold" textLength="113.0" lengthAdjust="spacingAndGlyphs" stroke="#000" stroke-width="0.45">September</text><text x="661.9" y="50.8" font-size="18.2" font-weight="bold" textLength="55.5" lengthAdjust="spacingAndGlyphs" stroke="#000" stroke-width="0.45">2012</text><text x="3.7" y="502" font-size="13.3" font-weight="bold" textLength="55.6" lengthAdjust="spacingAndGlyphs" stroke="#000" stroke-width="0.3">Source:</text><text x="66.2" y="502" font-size="13.3" font-weight="bold" textLength="77.6" lengthAdjust="spacingAndGlyphs" stroke="#000" stroke-width="0.3">Bloomberg</text><text x="20.2" y="81.7" font-size="14" font-weight="normal" textLength="66.6" lengthAdjust="spacingAndGlyphs" stroke="#000" stroke-width="0">Bloomberg</text><text x="90.8" y="81.7" font-size="14" font-weight="normal" textLength="68.0" lengthAdjust="spacingAndGlyphs" stroke="#000" stroke-width="0">Commodity</text><text x="163.9" y="81.7" font-size="14" font-weight="normal" textLength="28.0" lengthAdjust="spacingAndGlyphs" stroke="#000" stroke-width="0">Spot</text><text x="196.1" y="81.7" font-size="14" font-weight="normal" textLength="34.8" lengthAdjust="spacingAndGlyphs" stroke="#000" stroke-width="0">Index</text><text x="236.4" y="81.7" font-size="14" font-weight="normal" textLength="5.4" lengthAdjust="spacingAndGlyphs" stroke="#000" stroke-width="0">-</text><text x="246.3" y="81.7" font-size="14" font-weight="normal" textLength="25.4" lengthAdjust="spacingAndGlyphs" stroke="#000" stroke-width="0">Last</text><text x="276.2" y="81.7" font-size="14" font-weight="normal" textLength="32.2" lengthAdjust="spacingAndGlyphs" stroke="#000" stroke-width="0">Price</text></g>
</svg>
<div id="sq"></div>
<div class="yl" style="top:106.0px">450</div><div class="yl" style="top:182.4px">400</div><div class="yl" style="top:258.9px">350</div><div class="yl" style="top:335.4px">300</div><div class="yl" style="top:411.8px">250</div>
<div class="xl" style="left:38.9px">2013</div><div class="xl" style="left:135.3px">2014</div><div class="xl" style="left:231.6px">2015</div><div class="xl" style="left:327.8px">2016</div><div class="xl" style="left:424.0px">2017</div><div class="xl" style="left:520.2px">2018</div><div class="xl" style="left:616.5px">2019</div><div class="xl" style="left:712.9px">2020</div><div class="xl" style="left:784.5px">2021</div>
<div id="ylab">Index level</div>
</div></body></html>
